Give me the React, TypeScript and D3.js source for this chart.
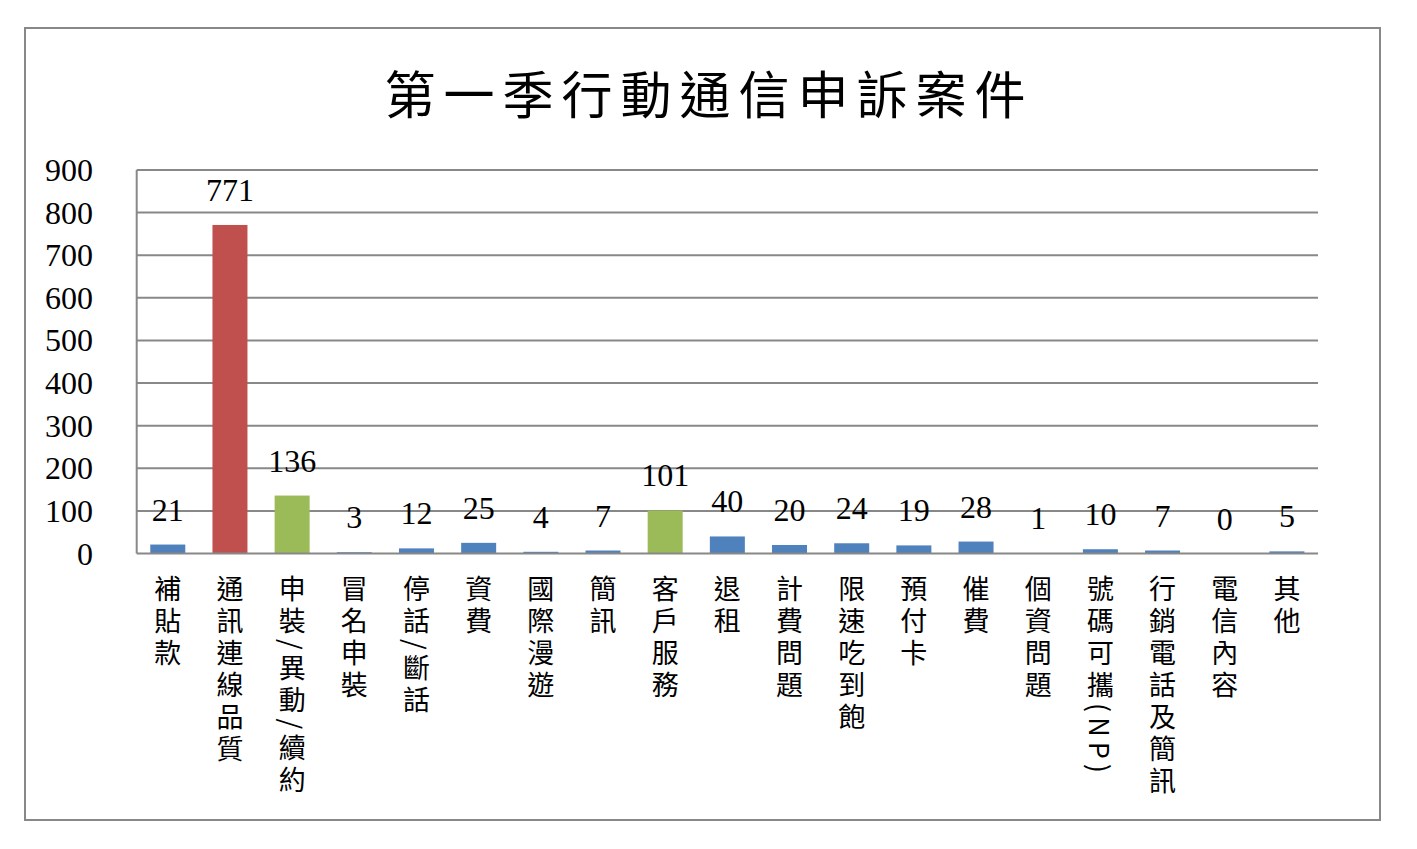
import React from "react";
import * as d3 from "d3";

const title = "第一季行動通信申訴案件";
const categories = [
  "補貼款", "通訊連線品質", "申裝/異動/續約", "冒名申裝", "停話/斷話", "資費", "國際漫遊", "簡訊",
  "客戶服務", "退租", "計費問題", "限速吃到飽", "預付卡", "催費", "個資問題", "號碼可攜(NP)",
  "行銷電話及簡訊", "電信內容", "其他",
];
const values = [21, 771, 136, 3, 12, 25, 4, 7, 101, 40, 20, 24, 19, 28, 1, 10, 7, 0, 5];
const colorKeys = ["b", "r", "g", "b", "b", "b", "b", "b", "g", "b", "b", "b", "b", "b", "b", "b", "b", "b", "b"];
const yTicks = [0, 100, 200, 300, 400, 500, 600, 700, 800, 900];

const palette: Record<string, string> = { b: "#4F81BD", r: "#C0504D", g: "#9BBB59" };

export default function App() {
  const W = 1417, H = 849;
  const left = 136.7, right = 1318, top = 170, bottom = 553.5;
  const xb = d3.scaleBand<string>().domain(categories).range([left, right]);
  const y = d3.scaleLinear().domain([0, 900]).range([bottom, top]);
  const serif = "'Liberation Serif', 'Times New Roman', serif";
  const cjk = "'Noto Sans CJK TC', 'Noto Sans CJK JP', sans-serif";
  return (
    <svg width={W} height={H} style={{ position: "absolute", left: 0, top: 0 }}>
      <rect x={0} y={0} width={W} height={H} fill="#fff" />
      <rect x={25} y={28} width={1355} height={792} fill="none" stroke="#888" strokeWidth={2} />
      <text x={709} y={114} textAnchor="middle" fontFamily={cjk} fontSize={51} letterSpacing={8} fill="#000">
        {title}
      </text>
      {yTicks.map((t) => (
        <g key={t}>
          {t > 0 && <line x1={left} x2={right} y1={y(t)} y2={y(t)} stroke="#888" strokeWidth={2} />}
          <text x={93} y={y(t) + 11} textAnchor="end" fontFamily={serif} fontSize={32} fill="#000">{t}</text>
        </g>
      ))}
      <line x1={left} x2={left} y1={top} y2={bottom} stroke="#888" strokeWidth={2} />
      {categories.map((c, i) => {
        const bw = 35;
        const cx = (xb(c) as number) + xb.bandwidth() / 2;
        return (
          <g key={c}>
            <rect x={cx - bw / 2} y={y(values[i])} width={bw} height={bottom - y(values[i])} fill={palette[colorKeys[i]]} />
            <text x={cx} y={y(values[i]) - 24} textAnchor="middle" fontFamily={serif} fontSize={32} fill="#000">{values[i]}</text>
            <text
              x={cx}
              y={575}
              fontFamily={cjk}
              fontSize={27}
              letterSpacing={5}
              fill="#000"
              style={{ writingMode: "vertical-rl", textOrientation: "mixed" } as any}
            >
              {c}
            </text>
          </g>
        );
      })}
      <line x1={left} x2={right} y1={bottom} y2={bottom} stroke="#888" strokeWidth={2} />
    </svg>
  );
}
